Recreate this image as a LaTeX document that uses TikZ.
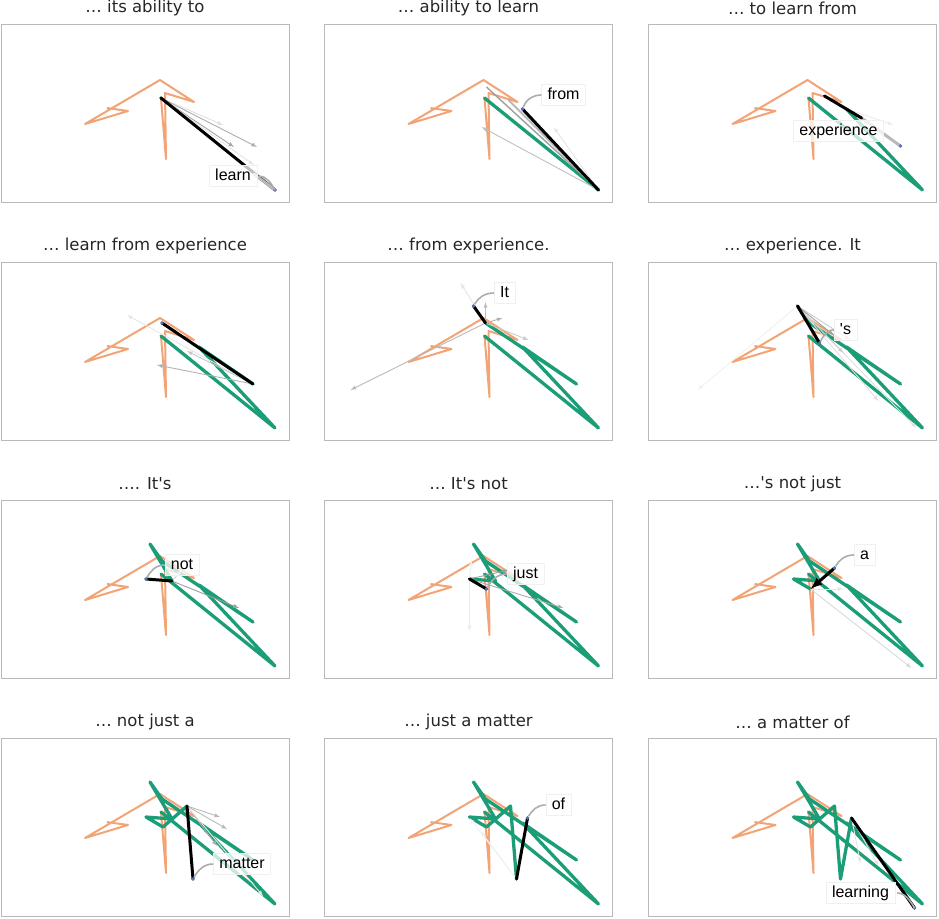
\documentclass[tikz,border=0pt]{standalone}
\usepackage{fontspec}
\setmainfont{DejaVu Sans}
\newfontfamily\labelfont{Liberation Sans}
\usepackage{xcolor}
\usepackage{tikz}
\usetikzlibrary{calc}

\definecolor{prompt}{RGB}{242,164,118}
\definecolor{traj}{RGB}{27,158,119}
\definecolor{dotblue}{RGB}{84,112,190}

\tikzset{
    panelbox/.style={draw=gray!55, line width=1pt},
    paneltitle/.style={font=\fontsize{16.5}{18}\selectfont, text=black!85},
    prompttraj/.style={draw=prompt, line width=2pt, line join=round},
    gentraj/.style={draw=traj, line width=3.3pt, line join=round, line cap=round},
    bestarrow/.style={draw=black, line width=3pt, line cap=round},
    altarrow/.style={->, line width=0.9pt},
    wordlabel/.style={font=\labelfont\fontsize{16}{16}\selectfont, fill=white, fill opacity=0.75, text opacity=1,
        draw=gray!12, inner xsep=6pt, inner ysep=3pt, text height=11.5pt, text depth=3.5pt},
    linkline/.style={draw=gray!65, line width=1.6pt, shorten <=2pt},
}

% points of the two trajectories, in pixels from the panel corner
\newcommand{\setpoints}{
    \coordinate (o1) at (106,84);  \coordinate (o2) at (127,87);
    \coordinate (o3) at (84,100);  \coordinate (o4) at (159,56);
    \coordinate (o5) at (193,78);  \coordinate (o6) at (164,69);
    \coordinate (o7) at (165,135); \coordinate (o8) at (160,74);
    \coordinate (g0) at (160,74);  \coordinate (g1) at (274,166);
    \coordinate (g2) at (198,85);  \coordinate (g3) at (252,122);
    \coordinate (g4) at (161,61);  \coordinate (g5) at (149,44);
    \coordinate (g6) at (171,81);  \coordinate (g7) at (145,79);
    \coordinate (g8) at (162,89);  \coordinate (g9) at (186,68);
    \coordinate (g10) at (192,141); \coordinate (g11) at (203,80);
}

% frame, title, prompt and the tokens so far
\newcommand{\basepanel}[2]{
    \setpoints
    \draw[panelbox] (0,0) rectangle (288,178);
    \node[paneltitle] (title#1) at (144,-16) {#2};
    \draw[prompttraj] (o1) \foreach \k in {2,...,8} {-- (o\k)};
    \pgfmathtruncatemacro\lastg{#1-1}
    \ifnum\lastg>0
        \draw[gentraj] (g0) \foreach \k in {1,...,\lastg} {-- (g\k)};
    \fi
}

\begin{document}
\begin{tikzpicture}[>=latex, x=1pt, y=-1pt]
    \useasboundingbox (0,0) rectangle (939,918);

    % Panel 1
    \begin{scope}[shift={(1,24)}]
        \basepanel{1}{… its ability to}
        \fill[traj] (g0) circle (1.8pt);
        \draw[altarrow, gray!25] (g0) -- (222,101);
        \draw[altarrow, gray!70] (g0) -- (233,123);
        \draw[altarrow, gray!65] (g0) -- (256,123);
        \draw[altarrow, gray!20] (g0) -- (253,141);
        \draw[bestarrow] (g0) -- (g1);
        \draw[bestarrow, gray!55] (253,150) -- (g1);
        \fill[dotblue] (g1) circle (1.8pt);
        \node[wordlabel] (word1) at (232,152) {learn};
        \draw[linkline] (word1.east) to[out=0, in=120] (g1);
    \end{scope}

    % Panel 2
    \begin{scope}[shift={(324.5,24)}]
        \basepanel{2}{… ability to learn}
        \draw[altarrow, gray!20] (g1) -- (229,103);
        \draw[altarrow, gray!50] (g1) -- (157,103);
        \draw[gray!75, line width=1.4pt] (g1) -- (162,63);
        \draw[gray!55, line width=2pt] (g1) -- (184,76);
        \draw[bestarrow] (g1) -- (g2);
        \fill[dotblue] (g2) circle (1.8pt);
        \node[wordlabel] (word2) at (239,71) {from};
        \draw[linkline] (g2) to[out=70, in=180] (word2.west);
    \end{scope}

    % Panel 3
    \begin{scope}[shift={(648.5,24)}]
        \basepanel{3}{… to learn from}
        \draw[altarrow, gray!15] (196,84) -- (245,101);
        \draw[line width=3pt, gray!55, line cap=round] (213,94) -- (g3);
        \draw[bestarrow] (176,72) -- (213,94);
        \fill[dotblue] (g3) circle (1.8pt);
        \node[wordlabel] (word3) at (190,107) {experience};
    \end{scope}

    % Panel 4
    \begin{scope}[shift={(1,262)}]
        \basepanel{4}{… learn from experience}
        \draw[altarrow, gray!60] (g3) -- (156,103);
        \draw[altarrow, gray!20] (g3) -- (126,53);
        \draw[altarrow, gray!45] (g3) -- (186,89);
        \draw[bestarrow] (g3) -- (g4);
        \fill[dotblue] (g4) circle (1.8pt);
    \end{scope}

    % Panel 5
    \begin{scope}[shift={(324.5,262)}]
        \basepanel{5}{… from experience.}
        \draw[altarrow, gray!55] (g4) -- (26,128);
        \draw[altarrow, gray!40] (g4) -- (204,78);
        \draw[altarrow, gray!60] (g4) -- (178,56);
        \draw[altarrow, gray!50] (g4) -- (161,40);
        \draw[altarrow, gray!20] (g4) -- (136,21);
        \draw[bestarrow] (g4) -- (g5);
        \fill[dotblue] (g5) circle (1.8pt);
        \node[wordlabel] (word5) at (180,31) {It};
        \draw[linkline] (g5) to[out=60, in=180] (word5.west);
    \end{scope}

    % Panel 6
    \begin{scope}[shift={(648.5,262)}]
        \basepanel{6}{… experience. It}
        \draw[altarrow, gray!12] (g5) -- (49,128);
        \draw[altarrow, gray!25] (g5) -- (268,166);
        \draw[altarrow, gray!25] (g5) -- (230,139);
        \draw[altarrow, gray!40] (g5) -- (195,91);
        \draw[altarrow, gray!40] (g5) -- (202,78);
        \draw[altarrow, gray!75] (g5) -- (185,73);
        \draw[bestarrow] (g5) -- (g6);
        \fill[dotblue] (g6) circle (1.8pt);
        \node[wordlabel] (word6) at (197,68) {\textquotesingle s};
        \draw[linkline] (g6) to[out=60, in=180] (word6.west);
    \end{scope}

    % Panel 7
    \begin{scope}[shift={(1,500)}]
        \basepanel{7}{…. It\textquotesingle s}
        \draw[altarrow, gray!75] (g6) -- (238,108);
        \draw[altarrow, gray!40] (g6) -- (181,70);
        \draw[bestarrow] (g6) -- (g7);
        \fill[dotblue] (g7) circle (1.8pt);
        \node[wordlabel] (word7) at (181,65) {not};
        \draw[linkline] (g7) to[out=60, in=180] (word7.west);
    \end{scope}

    % Panel 8
    \begin{scope}[shift={(324.5,500)}]
        \basepanel{8}{… It\textquotesingle s not}
        \draw[altarrow, gray!15] (g7) -- (145,131);
        \draw[altarrow, gray!15] (g7) -- (147,60);
        \draw[altarrow, gray!65] (g7) -- (239,108);
        \draw[altarrow, gray!75] (g7) -- (184,70);
        \draw[bestarrow] (g7) -- (g8);
        \fill[dotblue] (g8) circle (1.8pt);
        \node[wordlabel] (word8) at (201,74) {just};
        \draw[linkline] (g8) to[out=60, in=180] (word8.west);
    \end{scope}

    % Panel 9
    \begin{scope}[shift={(648.5,500)}]
        \basepanel{9}{…\textquotesingle s not just}
        \draw[altarrow, gray!30] (g8) -- (263,168);
        \draw[altarrow, gray!20] (g8) -- (195,89);
        \draw[bestarrow, <-] (g8) -- (g9);
        \fill[dotblue] (g9) circle (1.8pt);
        \node[wordlabel] (word9) at (216,55) {a};
        \draw[linkline] (g9) to[out=60, in=180] (word9.west);
    \end{scope}

    % Panel 10
    \begin{scope}[shift={(1,738)}]
        \basepanel{10}{… not just a}
        \draw[altarrow, gray!55] (g9) -- (219,79);
        \draw[altarrow, gray!55] (g9) -- (226,91);
        \draw[altarrow, gray!65] (g9) -- (216,108);
        \draw[altarrow, gray!20] (g9) -- (262,158);
        \draw[bestarrow] (g9) -- (g10);
        \fill[dotblue] (g10) circle (1.8pt);
        \node[wordlabel] (word10) at (241,126) {matter};
        \draw[linkline] (g10) to[out=60, in=180] (word10.west);
    \end{scope}

    % Panel 11
    \begin{scope}[shift={(324.5,738)}]
        \basepanel{11}{… just a matter}
        \draw[altarrow, gray!15] (g10) -- (156,93);
        \draw[altarrow, gray!10] (g10) -- (145,80);
        \draw[bestarrow] (g10) -- (g11);
        \fill[dotblue] (g11) circle (1.8pt);
        \node[wordlabel] (word11) at (234,67) {of};
        \draw[linkline] (g11) to[out=60, in=180] (word11.west);
    \end{scope}

    % Panel 12
    \begin{scope}[shift={(648.5,738)}]
        \basepanel{12}{… a matter of}
        \coordinate (g12) at (266,170);
        \draw[altarrow, gray!20] (g11) -- (212,125);
        \draw[altarrow, gray!20] (g11) -- (230,128);
        \draw[bestarrow] (g11) -- (g12);
        \fill[dotblue] (g12) circle (1.8pt);
        \node[wordlabel] (word12) at (212,155) {learning};
        \draw[linkline] (word12.east) to[out=0, in=120] (g12);
    \end{scope}
\end{tikzpicture}
\end{document}
